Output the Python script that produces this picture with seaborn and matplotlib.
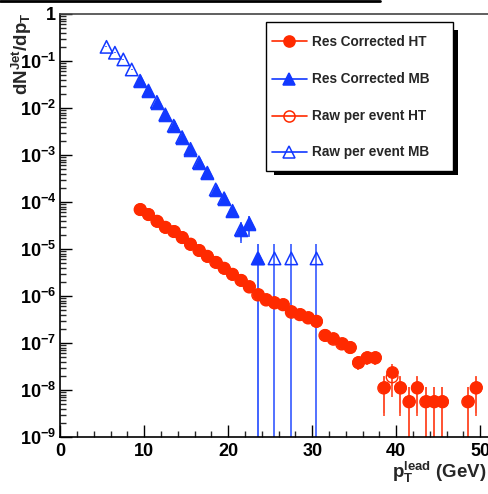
import numpy as np
import pandas as pd
import matplotlib
matplotlib.use("Agg")
import matplotlib.pyplot as plt
import seaborn as sns
from matplotlib.lines import Line2D
from matplotlib.patches import Rectangle
from matplotlib.ticker import FixedLocator, MultipleLocator, LogLocator, NullFormatter, FuncFormatter

# ---------------- data ----------------
mb_raw_x = [5.5, 6.5, 7.5, 8.5, 9.5, 10.5, 11.5, 12.5, 13.5, 14.5, 15.5, 16.5, 17.5,
            18.5, 19.5, 20.5, 21.5, 22.5, 23.5, 25.5, 27.5, 30.5]
mb_raw_y = [0.20, 0.15, 0.108, 0.066, 0.038, 0.0235, 0.0135, 0.0073, 0.0042, 0.0024,
            0.00135, 7.0e-4, 4.2e-4, 1.85e-4, 1.2e-4, 6.5e-5, 2.6e-5, 3.5e-5,
            6.3e-6, 6.3e-6, 6.3e-6, 6.3e-6]
mb_raw_err = [0.004, 0.003, 0.0025, 0.0018, 0.001, 0.0007, 0.0004, 0.00025, 0.00015,
              0.0001, 6e-5, 4e-5, 3e-5, 2e-5, 1.6e-5, 1.5e-5, 1.15e-5, 1.6e-5,
              6.3e-6, 6.3e-6, 6.3e-6, 6.3e-6]

mb_cor_x = [9.5, 10.5, 11.5, 12.5, 13.5, 14.5, 15.5, 16.5, 17.5, 18.5, 19.5, 20.5,
            21.5, 22.5, 23.5]
mb_cor_y = [0.037, 0.0228, 0.013, 0.0071, 0.0041, 0.0023, 0.0013, 6.9e-4, 4.1e-4,
            1.8e-4, 1.18e-4, 6.4e-5, 2.5e-5, 3.4e-5, 6.3e-6]
mb_cor_err = [0.001, 0.0007, 0.0004, 0.00025, 0.00015, 0.0001, 6e-5, 4e-5, 3e-5,
              2e-5, 1.6e-5, 1.5e-5, 1.15e-5, 1.6e-5, 6.3e-6]

ht_x = [9.5, 10.5, 11.5, 12.5, 13.5, 14.5, 15.5, 16.5, 17.5, 18.5, 19.5, 20.5, 21.5,
        22.5, 23.5, 24.5, 25.5, 26.5, 27.5, 28.5, 29.5, 30.5, 31.5, 32.5, 33.5, 34.5,
        35.5, 36.5, 37.5, 38.5, 39.5, 40.5, 41.5, 42.5, 43.5, 44.5, 45.5, 48.5, 49.5]
ht_cor_y = [7.1e-5, 5.5e-5, 4.0e-5, 3.0e-5, 2.4e-5, 1.8e-5, 1.3e-5, 9.5e-6, 7.2e-6,
            5.3e-6, 4.0e-6, 3.0e-6, 2.2e-6, 1.6e-6, 1.1e-6, 8.5e-7, 7.4e-7, 6.8e-7,
            4.7e-7, 4.2e-7, 3.5e-7, 3.0e-7, 1.5e-7, 1.26e-7, 1.0e-7, 8.3e-8, 4.0e-8,
            5.0e-8, 5.0e-8, 1.15e-8, 2.4e-8, 1.15e-8, 5.8e-9, 1.15e-8, 5.8e-9, 5.8e-9,
            5.8e-9, 5.8e-9, 1.15e-8]
ht_raw_y = [6.9e-5, 5.4e-5, 3.9e-5, 2.9e-5, 2.35e-5, 1.75e-5, 1.27e-5, 9.3e-6, 7.0e-6,
            5.2e-6, 3.9e-6, 2.9e-6, 2.15e-6, 1.55e-6, 1.05e-6, 8.2e-7, 7.1e-7, 6.5e-7,
            4.5e-7, 4.0e-7, 3.4e-7, 2.9e-7, 1.45e-7, 1.2e-7, 9.5e-8, 8.0e-8, 3.8e-8,
            4.8e-8, 4.8e-8, 1.1e-8, 1.9e-8, 1.1e-8, 5.6e-9, 1.1e-8, 5.6e-9, 5.6e-9,
            5.6e-9, 5.6e-9, 1.1e-8]
ht_err = [1.5e-6, 1.2e-6, 9e-7, 7e-7, 6e-7, 5e-7, 4e-7, 3e-7, 2.5e-7, 2e-7, 1.6e-7,
          1.3e-7, 1.1e-7, 9e-8, 7e-8, 6e-8, 5.5e-8, 5e-8, 4e-8, 3.8e-8, 3.4e-8, 3.2e-8,
          2.2e-8, 2.0e-8, 1.8e-8, 1.7e-8, 1.2e-8, 1.4e-8, 1.4e-8, 8.2e-9, 1.2e-8,
          8.2e-9, 5.8e-9, 8.2e-9, 5.8e-9, 5.8e-9, 5.8e-9, 5.8e-9, 8.2e-9]

legend_labels = ["Res Corrected HT", "Res Corrected MB", "Raw per event HT", "Raw per event MB"]
x_ticks = [0, 10, 20, 30, 40, 50]
y_decades = [1e-9, 1e-8, 1e-7, 1e-6, 1e-5, 1e-4, 1e-3, 1e-2, 1e-1, 1]

RED = "#ff2a00"
RED_E = "#ff5535"
BLUE = "#1238ff"
BLUE_E = "#4466ff"

# ---------------- style ----------------
sns.set_style("white")
plt.rcParams["font.family"] = ["Liberation Sans", "DejaVu Sans"]
plt.rcParams["font.weight"] = "bold"
plt.rcParams["mathtext.fontset"] = "custom"
plt.rcParams["mathtext.rm"] = "Liberation Sans:bold"
plt.rcParams["mathtext.it"] = "Liberation Sans:bold"
plt.rcParams["mathtext.bf"] = "Liberation Sans:bold"
plt.rcParams["mathtext.default"] = "rm"

W, H = 489, 494
fig = plt.figure(figsize=(W / 100, H / 100), dpi=100)
fig.patch.set_facecolor("white")
ax = fig.add_axes([60.3 / W, 57 / H, 428.4 / W, 423 / H])
ax.set_yscale("log")

df_mb_raw = pd.DataFrame({"x": mb_raw_x, "y": mb_raw_y})
df_mb_cor = pd.DataFrame({"x": mb_cor_x, "y": mb_cor_y})
df_ht_raw = pd.DataFrame({"x": ht_x, "y": ht_raw_y})
df_ht_cor = pd.DataFrame({"x": ht_x, "y": ht_cor_y})

# error bars
ax.errorbar(mb_raw_x, mb_raw_y, yerr=mb_raw_err, fmt="none", ecolor=BLUE_E, elinewidth=1.3, capsize=0, zorder=2)
ax.errorbar(mb_cor_x, mb_cor_y, yerr=mb_cor_err, fmt="none", ecolor=BLUE_E, elinewidth=1.3, capsize=0, zorder=2)
ax.errorbar(ht_x, ht_raw_y, yerr=ht_err, fmt="none", ecolor=RED_E, elinewidth=1.3, capsize=0, zorder=2)
ax.errorbar(ht_x, ht_cor_y, yerr=ht_err, fmt="none", ecolor=RED_E, elinewidth=1.3, capsize=0, zorder=2)

# markers
sns.scatterplot(data=df_mb_cor, x="x", y="y", marker="^", s=80, color=BLUE, edgecolor=BLUE,
                linewidth=0.8, ax=ax, zorder=3, legend=False)
sns.scatterplot(data=df_mb_raw, x="x", y="y", marker="^", s=80, facecolor="none", edgecolor=BLUE,
                linewidth=1.1, ax=ax, zorder=4, legend=False)
sns.scatterplot(data=df_ht_cor, x="x", y="y", marker="o", s=70, color=RED, edgecolor=RED,
                linewidth=0.8, ax=ax, zorder=3, legend=False)
sns.scatterplot(data=df_ht_raw, x="x", y="y", marker="o", s=70, facecolor="none", edgecolor=RED,
                linewidth=1.0, ax=ax, zorder=4, legend=False)

ax.set_xlim(0, 51)
ax.set_ylim(1e-9, 1)
ax.set_xlabel("")
ax.set_ylabel("")

ax.xaxis.set_major_locator(FixedLocator(x_ticks))
ax.xaxis.set_minor_locator(MultipleLocator(2))
ax.yaxis.set_major_locator(FixedLocator(y_decades))
ax.yaxis.set_minor_locator(LogLocator(base=10, subs=np.arange(2, 10), numticks=30))
ax.yaxis.set_minor_formatter(NullFormatter())


def yfmt(v, pos):
    e = int(round(np.log10(v)))
    if e == 0:
        return "1"
    return r"$10^{%d}$" % e


ax.yaxis.set_major_formatter(FuncFormatter(yfmt))
ax.tick_params(axis="both", which="major", direction="in", length=8.6, width=1.0,
               bottom=True, left=True, top=False, right=False, labelsize=13, colors="black")
ax.tick_params(axis="both", which="minor", direction="in", length=4.3, width=1.0,
               bottom=True, left=True, top=False, right=False)
ax.tick_params(axis="x", which="major", pad=4)
ax.tick_params(axis="y", which="major", pad=3)
for lab in ax.get_xticklabels() + ax.get_yticklabels():
    lab.set_fontweight("bold")
for sp in ax.spines.values():
    sp.set_color("black")
    sp.set_linewidth(1.2)
ax.spines["top"].set_color("#444444")
ax.spines["right"].set_color("#444444")

# axis titles
fig.text(22 / W, 1 - 12 / H, r"$dN^{Jet}/dp_{T}$", rotation=90, ha="center", va="top", fontsize=13.5)
fig.text(487 / W, 1 - 472 / H, r"$p_{T}^{lead}$ (GeV)", ha="right", va="center", fontsize=13.5)

# top black line
fig.add_artist(Line2D([0, 380 / W], [1 - 1 / H, 1 - 1 / H], color="black", lw=2, transform=fig.transFigure))


# ---------------- legend (ROOT-style box with shadow) ----------------
def fx(px):
    return px / W


def fy(py):
    return 1 - py / H


fig.add_artist(Rectangle((fx(274), fy(175)), (458.3 - 274) / W, (175 - 30.5) / H,
                         facecolor="black", edgecolor="none", transform=fig.transFigure, zorder=10))
fig.add_artist(Rectangle((fx(266), fy(170.7)), (453.3 - 266) / W, (170.7 - 22.3) / H,
                         facecolor="white", edgecolor="black", lw=1.0, transform=fig.transFigure, zorder=11))
rows = [41.5, 78.7, 116, 151.7]
specs = [(RED, "o", RED), (BLUE, "^", BLUE), (RED, "o", "none"), (BLUE, "^", "none")]
for yy, (c, m, fc), lab in zip(rows, specs, legend_labels):
    fig.add_artist(Line2D([fx(272.3), fx(306.7)], [fy(yy), fy(yy)], color=c, lw=1.2,
                          transform=fig.transFigure, zorder=12))
    fig.add_artist(Line2D([fx(289)], [fy(yy)], marker=m, markersize=8, markerfacecolor=fc,
                          markeredgecolor=c, markeredgewidth=1.1, linestyle="none",
                          transform=fig.transFigure, zorder=13))
    fig.text(fx(311.7), fy(yy), lab, ha="left", va="center", fontsize=9.8, fontweight="bold", zorder=13)

fig.savefig("out.png", dpi=100)
